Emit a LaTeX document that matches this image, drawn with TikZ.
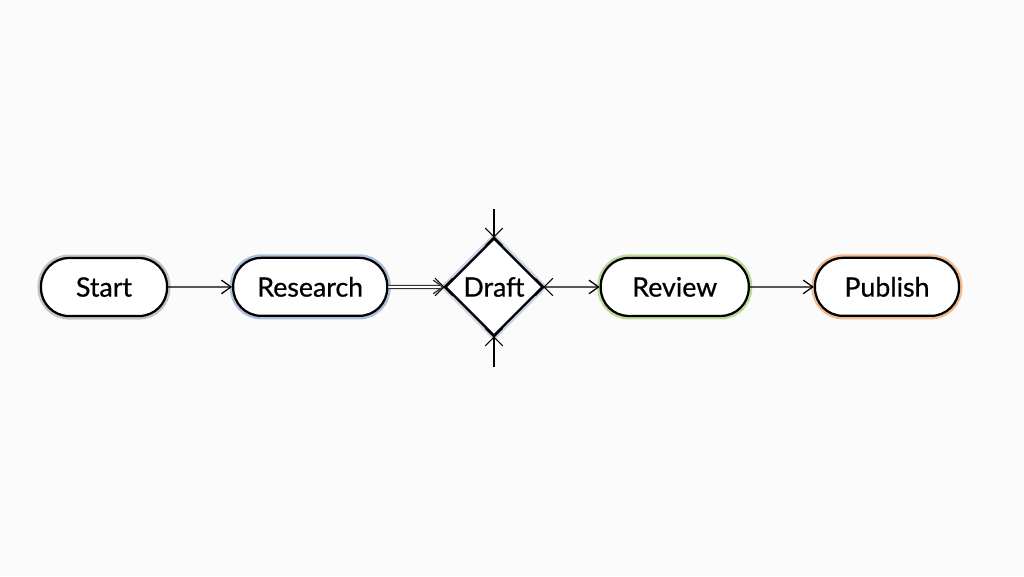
\documentclass[tikz,border=0pt]{standalone}
\usepackage{fontspec}
\setmainfont{Lato}
\newfontfamily\labelfont{Lato}[FakeBold=0.7]
\usetikzlibrary{matrix,shapes.geometric,arrows.meta}
\definecolor{paper}{RGB}{251,251,251}
\definecolor{sketchgray}{RGB}{150,150,150}
\definecolor{researchblue}{RGB}{110,140,195}
\definecolor{reviewgreen}{RGB}{140,195,70}
\definecolor{publishorange}{RGB}{230,135,60}
\tikzset{
  pill/.style={rectangle, rounded corners=0.7cm, draw=black, line width=1.6pt, fill=white,
    minimum height=1.45cm, font=\labelfont\fontsize{19}{21}\selectfont},
  halo/.style={preaction={draw=#1, line width=5pt, opacity=0.55}},
  choice/.style={diamond, draw=black, line width=1.6pt, fill=white,
    minimum size=2.45cm, inner sep=0pt, font=\labelfont\fontsize{19}{21}\selectfont},
}

\begin{document}
\begin{tikzpicture}
			\fill[paper] (0,0) rectangle (25.6,14.4);
			\useasboundingbox (0,0) rectangle (25.6,14.4);
			\matrix (m) at (12.5,7.225) [matrix of nodes,column sep=1.28cm,ampersand replacement=\&]
			{
				|[pill,halo=sketchgray,minimum width=3.15cm]| Start \&[0.2cm]
				|[pill,halo=researchblue,minimum width=3.85cm]| Research \&
				|[choice,halo=researchblue!60]| Draft \&
				|[pill,halo=reviewgreen,minimum width=3.7cm]| Review \&[0.2cm]
				|[pill,halo=publishorange,minimum width=3.6cm]| Publish \\};
			% marks round the diamond
			\draw[line width=0.9pt] (m-1-3.north) -- ++(0,0.7);
			\draw[line width=0.9pt] (m-1-3.south) -- ++(0,-0.75);
			\foreach \v in {north,south,east,west}
			{
				\draw[line width=0.8pt] (m-1-3.\v) ++(-0.22,-0.22) -- ++(0.44,0.44);
				\draw[line width=0.8pt] (m-1-3.\v) ++(0.22,-0.22) -- ++(-0.44,0.44);
			}
			\path[-{Straight Barb[length=2.4mm,width=3.4mm]}, line width=0.9pt]
			(m-1-1) edge (m-1-2)
			(m-1-2) edge [double=white, draw=black!80, double distance=1.2pt] (m-1-3)
			(m-1-3) edge (m-1-4)
			(m-1-4) edge (m-1-5);
		\end{tikzpicture}
\end{document}
